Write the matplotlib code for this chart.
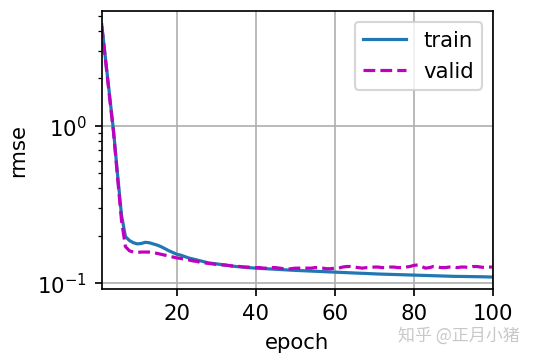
import matplotlib
matplotlib.use("Agg")
import matplotlib.pyplot as plt
import numpy as np

# rmse per epoch
epochs = list(range(1, 101))
train_ls = [4.4, 2.6, 1.55, 0.92, 0.49, 0.27, 0.197, 0.186, 0.180, 0.177,
            0.178, 0.181, 0.180, 0.177, 0.174, 0.170, 0.165, 0.160, 0.156, 0.152,
            0.150, 0.147, 0.144, 0.142, 0.140, 0.138, 0.136, 0.134, 0.133, 0.132,
            0.131, 0.130, 0.129, 0.128, 0.127, 0.1265, 0.126, 0.125, 0.1245, 0.124,
            0.1236, 0.1232, 0.1228, 0.1224, 0.122, 0.1216, 0.1212, 0.1208, 0.1204, 0.120,
            0.1197, 0.1194, 0.1191, 0.1188, 0.1185, 0.1182, 0.1179, 0.1176, 0.1173, 0.117,
            0.1167, 0.1164, 0.1161, 0.1158, 0.1155, 0.1152, 0.115, 0.1147, 0.1144, 0.1141,
            0.1138, 0.1136, 0.1134, 0.1132, 0.113, 0.1128, 0.1126, 0.1124, 0.1122, 0.112,
            0.1118, 0.1116, 0.1114, 0.1112, 0.111, 0.1108, 0.1106, 0.1104, 0.1102, 0.11,
            0.1099, 0.1098, 0.1097, 0.1096, 0.1095, 0.1094, 0.1093, 0.1092, 0.1090, 0.1088]
valid_ls = [4.3, 2.55, 1.5, 0.9, 0.47, 0.25, 0.17, 0.160, 0.157, 0.156,
            0.157, 0.157, 0.157, 0.156, 0.154, 0.152, 0.150, 0.148, 0.146, 0.144,
            0.143, 0.141, 0.140, 0.138, 0.137, 0.135, 0.134, 0.133, 0.132, 0.131,
            0.130, 0.130, 0.129, 0.128, 0.128, 0.127, 0.126, 0.126, 0.125, 0.125,
            0.125, 0.124, 0.124, 0.125, 0.125, 0.124, 0.123, 0.122, 0.123, 0.124,
            0.124, 0.125, 0.124, 0.124, 0.125, 0.125, 0.124, 0.123, 0.123, 0.124,
            0.124, 0.126, 0.127, 0.127, 0.126, 0.125, 0.124, 0.125, 0.125, 0.126,
            0.126, 0.125, 0.125, 0.126, 0.126, 0.125, 0.125, 0.126, 0.127, 0.129,
            0.130, 0.127, 0.124, 0.125, 0.127, 0.126, 0.125, 0.125, 0.126, 0.126,
            0.125, 0.126, 0.126, 0.125, 0.127, 0.127, 0.126, 0.125, 0.126, 0.126]

fig = plt.figure(figsize=(3.5, 2.35), dpi=153)
ax = fig.add_axes([0.19, 0.195, 0.73, 0.772])

ax.plot(epochs, train_ls, '-', color='#1f77b4', lw=1.5, label='train')
ax.plot(epochs, valid_ls, 'm--', lw=1.5, label='valid')
ax.set_yscale('log')
ax.set_xlim(1, 100)
ax.set_ylim(0.0915, 5.35)
ax.set_xlabel('epoch')
ax.set_ylabel('rmse')
ax.grid(True)
ax.legend(loc='upper right')

fig.text(0.97, 0.065, '知乎 @正月小猪', ha='right', va='center', fontsize=8,
         color='#c8c8c8', family=['Noto Sans CJK SC', 'DejaVu Sans'])

fig.savefig('out.png', dpi=153)
